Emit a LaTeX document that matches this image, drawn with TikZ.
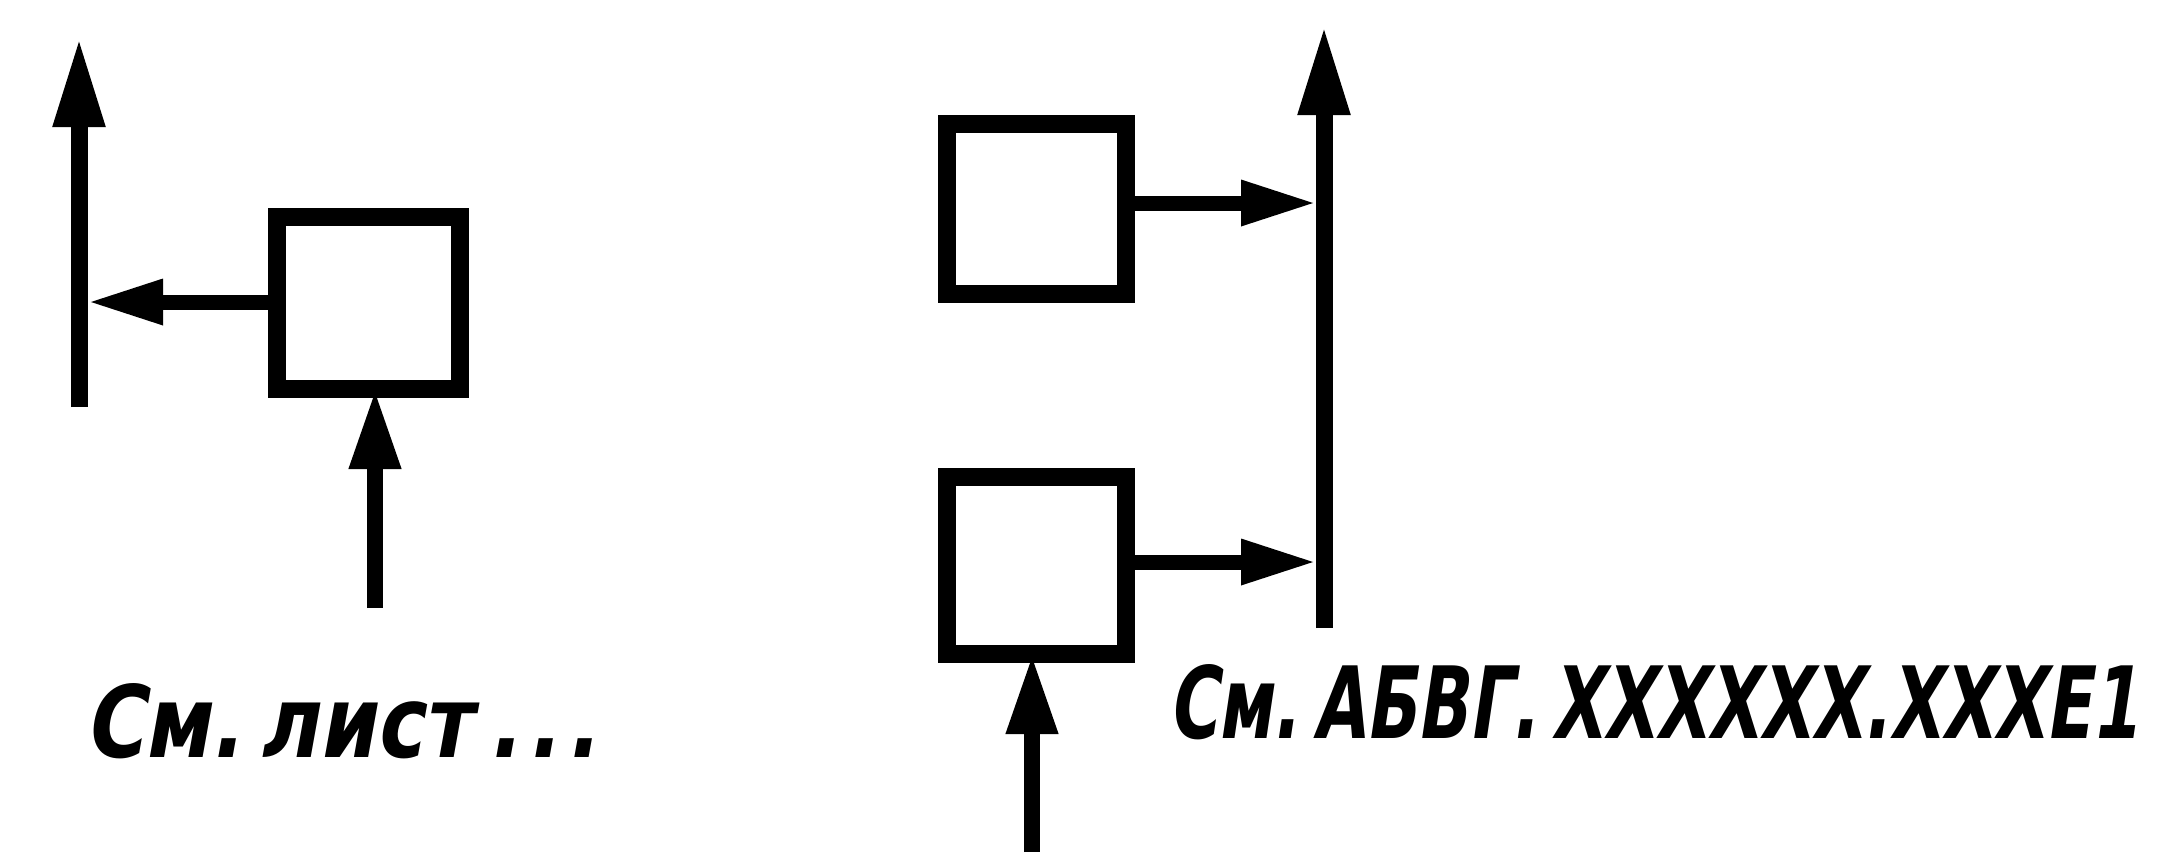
\documentclass[tikz,border=0pt]{standalone}
\usepackage{fontspec}
\usetikzlibrary{arrows.meta}
\newfontfamily\gostfont{DejaVu Sans}[FakeSlant=0.22]
\newcommand{\gsp}{\hspace{0.22em}}
\tikzset{
  blk/.style={draw=black, line width=18pt, fill=none, inner sep=0pt, outer sep=0pt},
  busline/.style={line width=17pt, -{Triangle[length=90pt,width=48pt]}},
  hline/.style={line width=15pt, -{Triangle[length=76pt,width=42pt]}},
  inline/.style={line width=16pt, -{Triangle[length=80pt,width=48pt]}},
  lbl/.style={inner sep=0pt, outer sep=0pt, anchor=base west}
}
\begin{document}
\begin{tikzpicture}[x=1pt, y=-1pt]
\useasboundingbox (0,0) rectangle (2171,852);
% ---------- left group ----------
\node[blk, minimum width=183pt, minimum height=172pt] (boxL) at (368.5,303) {};
\coordinate (busLb) at (79,407);
\coordinate (busLt) at (79,37);
\coordinate (jL) at (87,302);
\coordinate (inL) at (375,608);
\draw[busline] (busLb) -- (busLt);
\draw[hline] (boxL.west |- jL) -- (jL);
\draw[inline] (inL) -- (inL |- boxL.south);
\node[lbl] (txtL) at (84,757) {\resizebox{513pt}{74pt}{\gostfont\bfseries См.\gsp лист\gsp .\hspace{0.1em}.\hspace{0.1em}.}};
% ---------- right group ----------
\node[blk, minimum width=179pt, minimum height=170pt] (boxT) at (1036.5,209) {};
\node[blk, minimum width=179pt, minimum height=177pt] (boxB) at (1036.5,565.5) {};
\coordinate (busRb) at (1324,628);
\coordinate (busRt) at (1324,25);
\coordinate (jT) at (1317,203);
\coordinate (jB) at (1317,562);
\coordinate (inR) at (1032,852);
\draw[busline] (busRb) -- (busRt);
\draw[hline] (boxT.east |- jT) -- (jT);
\draw[hline] (boxB.east |- jB) -- (jB);
\draw[inline] (inR) -- (inR |- boxB.south);
\node[lbl] (txtR) at (1168,738) {\resizebox{970pt}{74pt}{\gostfont\bfseries См.\gsp АБВГ.\gsp XXXXXX.XXXЕ1}};
\end{tikzpicture}
\end{document}
